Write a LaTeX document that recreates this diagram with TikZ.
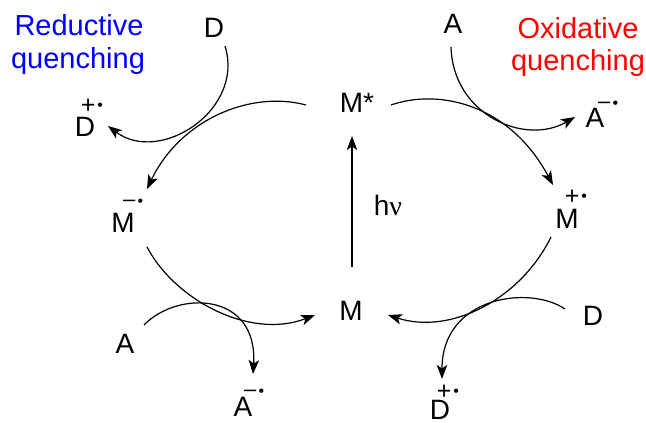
\documentclass[tikz,border=0pt]{standalone}
\usepackage{fontspec}
\setmainfont{Liberation Sans}
\newfontfamily\nufont{Liberation Serif}
\usetikzlibrary{arrows.meta}
\newcommand{\raddot}[1]{{\fontsize{16}{16}\selectfont\raisebox{#1}{•}}}
\newcommand{\plusrad}{{\fontsize{25}{25}\selectfont +}\kern1.9pt\raddot{2.5pt}}
\newcommand{\minusrad}{{\fontsize{22}{22}\selectfont –}\kern2.1pt\raddot{0pt}}

\begin{document}
\begin{tikzpicture}[
  x=1pt, y=-1pt,
  species/.style={anchor=base, inner sep=0pt, font=\fontsize{28}{30}\selectfont},
  charge/.style={anchor=base west, inner sep=0pt},
  quench/.style={anchor=base, inner sep=0pt, font=\fontsize{29}{32}\selectfont},
  curved/.style={line width=1.2pt},
  >={Stealth[length=14pt, width=10.5pt, inset=3.5pt]}
]
\useasboundingbox (0,0) rectangle (646,423);
% species round the two cycles
\node[species] (Mstar) at (357,112) {M*};
\node[species] (Mbot) at (351,320) {M};
\node[species] (Mminus) at (123,232) {M};
\node[species] (Mplus) at (567,228) {M};
\node[species] (Dtop) at (214,37) {D};
\node[species] (Dplus) at (85,136) {D};
\node[species] (Atop) at (453,33) {A};
\node[species] (Aminus) at (595,127) {A};
\node[species] (Aleft) at (125,353) {A};
\node[species] (Abot) at (243,416) {A};
\node[species] (Dright) at (593,325) {D};
\node[species] (Dbot) at (440,419.5) {D};
\node[species] (hv) at (388,215) {h{\nufont ν}};
% charges
\node[charge] (cDplus) at (80.6,113.4) {\plusrad};
\node[charge] (cMminus) at (123,206) {\minusrad};
\node[charge] (cMplus) at (564.6,204.4) {\plusrad};
\node[charge] (cAminus) at (598,108) {\minusrad};
\node[charge] (cAbot) at (244,396) {\minusrad};
\node[charge] (cDbot) at (436.6,399.4) {\plusrad};
% titles
\node[quench, text=blue] (redA) at (79,35) {Reductive};
\node[quench, text=blue] (redB) at (78,68) {quenching};
\node[quench, text=red] (oxA) at (578,38) {Oxidative};
\node[quench, text=red] (oxB) at (578,70) {quenching};
% arrows
\draw[->, line width=1.6pt] ([shift={(1,-53)}]Mbot.base) -- ([shift={(-5,24)}]Mstar.base);
\draw[->, curved] ([shift={(-51,-7)}]Mstar.base) .. controls (250,90) and (180,120) .. ([shift={(24,-43)}]Mminus.base);
\draw[->, curved] ([shift={(11,9)}]Dtop.base) .. controls (245,110) and (160,165) .. ([shift={(23,-10)}]Dplus.base);
\draw[->, curved] ([shift={(34,-7)}]Mstar.base) .. controls (440,88) and (510,105) .. ([shift={(-14,-43)}]Mplus.base);
\draw[->, curved] ([shift={(-2,14)}]Atop.base) .. controls (453,115) and (525,146) .. ([shift={(-20,-10)}]Aminus.base);
\draw[->, curved] ([shift={(24,15)}]Mminus.base) .. controls (175,300) and (250,340) .. ([shift={(-36,-5)}]Mbot.base);
\draw[->, curved] ([shift={(19,-28)}]Aleft.base) .. controls (178,290) and (258,292) .. ([shift={(10,-42)}]Abot.base);
\draw[->, curved] ([shift={(-16,9)}]Mplus.base) .. controls (520,300) and (450,335) .. ([shift={(37,-5)}]Mbot.base);
\draw[->, curved] ([shift={(-28,-16)}]Dright.base) .. controls (530,285) and (442,296) .. ([shift={(2,-40.5)}]Dbot.base);
\end{tikzpicture}
\end{document}
